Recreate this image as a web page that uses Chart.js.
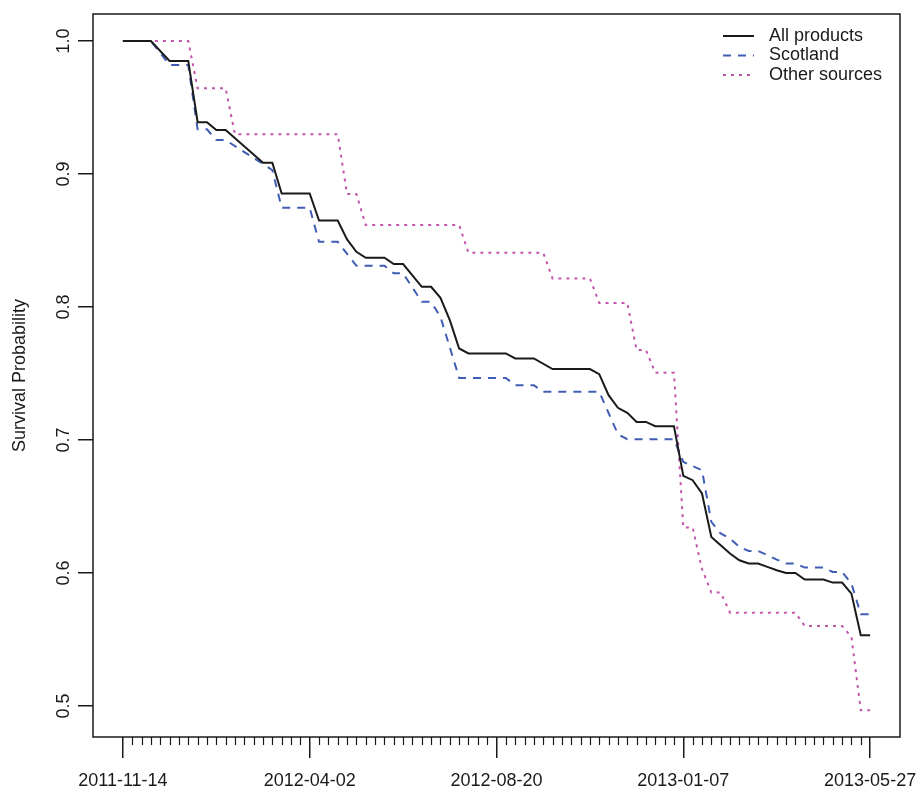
<!DOCTYPE html>
<html>
<head>
<meta charset="utf-8">
<title>Survival Probability</title>
<script src="https://cdn.jsdelivr.net/npm/chart.js@4.4.1/dist/chart.umd.min.js"></script>
<style>
    body { margin: 0; background: #fff; }
    #wrap { width: 918px; height: 790px; position: relative; }
</style>
</head>
<body>
<div id="wrap"><canvas id="survivalChart"></canvas></div>
<script>
// Weeks since 2011-11-14 and survival estimates
const allWeeks = [0, 3, 5, 7, 8, 9, 10, 11, 15, 16, 17, 20, 21, 23, 24, 25, 26, 28, 29, 30,
    32, 33, 34, 35, 36, 37, 41, 42, 44, 46, 50, 51, 52, 53, 54, 55, 56, 57, 59, 60,
    61, 62, 63, 64, 65, 66, 67, 68, 69, 70, 71, 72, 73, 75, 76, 77, 78, 79, 80];
const allValues = [1, 1, 0.985, 0.985, 0.939, 0.939, 0.933, 0.933, 0.9085, 0.9085,
    0.8854, 0.8854, 0.865, 0.865, 0.8508, 0.8415, 0.837, 0.837, 0.8323, 0.8323,
    0.8152, 0.8152, 0.8069, 0.7901, 0.7688, 0.7651, 0.7651, 0.7613, 0.7613, 0.7533,
    0.7533, 0.7495, 0.7337, 0.7242, 0.7204, 0.7136, 0.7136, 0.7104, 0.7104, 0.673,
    0.6698, 0.6598, 0.6271, 0.6209, 0.6146, 0.6096, 0.6071, 0.6071, 0.6046, 0.6021,
    0.600, 0.600, 0.5951, 0.5951, 0.5928, 0.5928, 0.5845, 0.5532, 0.5532];

const scotlandWeeks = [0, 3, 5, 7, 8, 9, 10, 11, 16, 17, 20, 21, 23, 25, 28, 29, 30, 32, 33, 34,
    36, 41, 42, 44, 45, 51, 53, 54, 59, 60, 62, 63, 64, 65, 66, 67, 68, 69, 70, 71,
    72, 73, 75, 76, 77, 78, 79, 80];
const scotlandValues = [1, 1, 0.982, 0.982, 0.9336, 0.9336, 0.9255, 0.9255, 0.903, 0.8746,
    0.8746, 0.849, 0.849, 0.831, 0.831, 0.8253, 0.8253, 0.8039, 0.8039, 0.7926,
    0.7467, 0.7467, 0.7412, 0.7412, 0.7362, 0.7362, 0.7044, 0.7006, 0.7006, 0.6835,
    0.6773, 0.6384, 0.6297, 0.626, 0.6196, 0.6166, 0.6166, 0.6134, 0.6101, 0.6071,
    0.6071, 0.6041, 0.6041, 0.6008, 0.6008, 0.5921, 0.569, 0.569];

const otherWeeks = [0, 7, 8, 11, 12, 23, 24, 25, 26, 36, 37, 45, 46, 50, 51, 54, 55, 56, 57, 59,
    60, 61, 62, 63, 64, 65, 72, 73, 77, 78, 79, 80];
const otherValues = [1, 1, 0.9644, 0.9644, 0.9298, 0.9298, 0.8849, 0.8849, 0.8616, 0.8616,
    0.8408, 0.8408, 0.8215, 0.8215, 0.8031, 0.8031, 0.7676, 0.7676, 0.7505, 0.7505,
    0.6342, 0.6342, 0.603, 0.5853, 0.5853, 0.5702, 0.5702, 0.5602, 0.5602, 0.5519,
    0.4968, 0.4968];

// Major x ticks every 20 weeks
const xTickLabels = ['2011-11-14', '2012-04-02', '2012-08-20', '2013-01-07', '2013-05-27'];
const yTicks = [0.5, 0.6, 0.7, 0.8, 0.9, 1.0];

const FONT = '"Liberation Sans", Arial, Helvetica, sans-serif';

function toPoints(weeks, values) {
    return weeks.map((w, i) => ({ x: w, y: values[i] }));
}

// Box round the plot, weekly minor ticks and the legend
const framePlugin = {
    id: 'frame',
    afterDraw(chart) {
        const { ctx, chartArea: a, scales } = chart;
        ctx.save();
        ctx.strokeStyle = '#1a1a1a';
        ctx.lineWidth = 1.5;
        ctx.strokeRect(a.left, a.top, a.right - a.left, a.bottom - a.top);

        // minor ticks
        ctx.lineWidth = 1.2;
        ctx.beginPath();
        for (let w = 1; w < 80; w++) {
            if (w % 20 === 0) continue;
            const px = Math.round(scales.x.getPixelForValue(w)) + 0.5;
            ctx.moveTo(px, a.bottom);
            ctx.lineTo(px, a.bottom + 8);
        }
        ctx.stroke();

        // legend
        ctx.font = '18px ' + FONT;
        ctx.textBaseline = 'middle';
        ctx.textAlign = 'left';
        chart.data.datasets.forEach((ds, i) => {
            const y = a.top + 22 + i * 19.5;
            ctx.strokeStyle = ds.borderColor;
            ctx.lineWidth = ds.borderWidth;
            ctx.setLineDash(ds.borderDash || []);
            ctx.beginPath();
            ctx.moveTo(a.right - 177, y);
            ctx.lineTo(a.right - 146, y);
            ctx.stroke();
            ctx.setLineDash([]);
            ctx.fillStyle = '#1a1a1a';
            ctx.fillText(ds.label, a.right - 131, y);
        });
        ctx.restore();
    }
};

document.addEventListener('DOMContentLoaded', () => {
    const ctx = document.getElementById('survivalChart').getContext('2d');
    new Chart(ctx, {
        type: 'line',
        data: {
            datasets: [{
                label: 'All products',
                data: toPoints(allWeeks, allValues),
                borderColor: '#1a1a1a',
                borderWidth: 2,
                borderDash: []
            }, {
                label: 'Scotland',
                data: toPoints(scotlandWeeks, scotlandValues),
                borderColor: '#3f5db5',
                borderWidth: 2,
                borderDash: [8, 7]
            }, {
                label: 'Other sources',
                data: toPoints(otherWeeks, otherValues),
                borderColor: '#c456ad',
                borderWidth: 2,
                borderDash: [3, 5]
            }]
        },
        options: {
            responsive: true,
            maintainAspectRatio: false,
            animation: false,
            layout: { padding: { top: 14, right: 18, left: 0, bottom: 0 } },
            elements: {
                point: { radius: 0, hoverRadius: 0 },
                line: { tension: 0, fill: false, borderCapStyle: 'butt' }
            },
            plugins: {
                legend: { display: false },
                tooltip: { enabled: false }
            },
            scales: {
                x: {
                    type: 'linear',
                    position: 'bottom',
                    min: -3.2,
                    max: 83.2,
                    afterFit: s => {
                        s.height = 53;
                        s.paddingLeft = 0;
                        s.paddingRight = 0;
                    },
                    border: { display: false },
                    grid: {
                        drawOnChartArea: false,
                        drawTicks: true,
                        tickLength: 21,
                        color: '#1a1a1a',
                        lineWidth: 1.5
                    },
                    ticks: {
                        stepSize: 20,
                        includeBounds: false,
                        autoSkip: false,
                        maxRotation: 0,
                        padding: 12,
                        color: '#1a1a1a',
                        font: { family: FONT, size: 18 },
                        callback: v => xTickLabels[Math.round(v / 20)] || ''
                    }
                },
                y: {
                    type: 'linear',
                    min: 0.4767,
                    max: 1.0203,
                    afterFit: s => {
                        s.width = 93;
                        s.paddingTop = 0;
                        s.paddingBottom = 0;
                    },
                    afterBuildTicks: s => { s.ticks = yTicks.map(v => ({ value: v })); },
                    border: { display: false },
                    grid: {
                        drawOnChartArea: false,
                        drawTicks: true,
                        tickLength: 15,
                        color: '#1a1a1a',
                        lineWidth: 1.5
                    },
                    ticks: {
                        minRotation: 90,
                        maxRotation: 90,
                        crossAlign: 'center',
                        padding: 1,
                        color: '#1a1a1a',
                        font: { family: FONT, size: 18 },
                        callback: v => Number(v).toFixed(1)
                    },
                    title: {
                        display: true,
                        text: 'Survival Probability',
                        color: '#1a1a1a',
                        font: { family: FONT, size: 18 },
                        padding: { top: 9, bottom: 0 }
                    }
                }
            }
        },
        plugins: [framePlugin]
    });
});
</script>
</body>
</html>
